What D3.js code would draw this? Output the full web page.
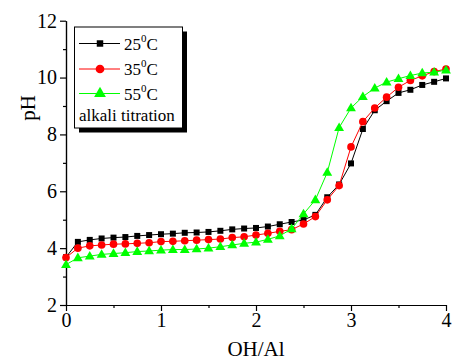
<!DOCTYPE html>
<html>
<head>
<meta charset="utf-8">
<script src="https://cdn.jsdelivr.net/npm/d3@7"></script>
<style>
  body { margin: 0; background: #fff; }
  svg { display: block; font-family: "Liberation Serif", "Times New Roman", serif; }
</style>
</head>
<body>
<svg></svg>
<script>
// OH/Al ratio
let ratios = [0, 0.125, 0.25, 0.375, 0.5, 0.625, 0.75, 0.875, 1, 1.125, 1.25, 1.375, 1.5, 1.625, 1.75, 1.875,
              2, 2.125, 2.25, 2.375, 2.5, 2.625, 2.75, 2.875, 3, 3.125, 3.25, 3.375, 3.5, 3.625, 3.75, 3.875, 4]

let ph25 = [3.68, 4.22, 4.29, 4.34, 4.37, 4.39, 4.43, 4.46, 4.49, 4.51, 4.54, 4.55, 4.57, 4.61, 4.66, 4.69,
            4.71, 4.76, 4.84, 4.92, 4.99, 5.17, 5.79, 6.24, 6.98, 8.19, 8.85, 9.17, 9.46, 9.57, 9.74, 9.85, 9.97]
let ph35 = [3.67, 4.0, 4.08, 4.11, 4.14, 4.15, 4.17, 4.19, 4.23, 4.24, 4.26, 4.28, 4.30, 4.32, 4.37, 4.40,
            4.46, 4.52, 4.59, 4.65, 4.85, 5.11, 5.70, 6.20, 7.56, 8.45, 8.93, 9.31, 9.66, 9.90, 10.06, 10.21, 10.30]
let ph55 = [3.42, 3.66, 3.72, 3.78, 3.81, 3.84, 3.88, 3.90, 3.93, 3.95, 3.95, 3.97, 4.0, 4.05, 4.11, 4.17,
            4.21, 4.31, 4.43, 4.68, 5.20, 5.70, 6.66, 8.24, 8.93, 9.33, 9.63, 9.84, 9.96, 10.07, 10.16, 10.19, 10.26]

let seriesNames = ['25', '35', '55']
let seriesColors = ['#000000', '#ff0000', '#00ff00']
let seriesShapes = ['square', 'circle', 'triangle']
let legendNote = 'alkali titration'

let xTicks = [0, 1, 2, 3, 4]
let xMinorTicks = [0.5, 1.5, 2.5, 3.5]
let yTicks = [2, 4, 6, 8, 10, 12]
let yMinorTicks = [3, 5, 7, 9, 11]

let width = 452
let height = 362
let plotLeft = 66, plotRight = 446, plotTop = 20.7, plotBottom = 305

let svg = d3.select('svg').attr('width', width).attr('height', height)

let xScale = d3.scaleLinear().domain([0, 4]).range([plotLeft, plotRight])
let yScale = d3.scaleLinear().domain([2, 12]).range([plotBottom, plotTop])

const symbolFor = (shape, size) => {
    let type = shape === 'square' ? d3.symbolSquare : shape === 'circle' ? d3.symbolCircle : d3.symbolTriangle
    return d3.symbol().type(type).size(size)()
}

// axes
let xAxis = d3.axisBottom(xScale).tickValues(xTicks).tickSize(6).tickSizeOuter(0).tickPadding(2).tickFormat(d3.format('d'))
let xMinor = d3.axisBottom(xScale).tickValues(xMinorTicks).tickSize(3).tickSizeOuter(0).tickFormat('')
let yAxis = d3.axisLeft(yScale).tickValues(yTicks).tickSize(6).tickSizeOuter(0).tickPadding(3).tickFormat(d3.format('d'))
let yMinor = d3.axisLeft(yScale).tickValues(yMinorTicks).tickSize(3).tickSizeOuter(0).tickFormat('')

const styleAxis = (g) => {
    g.attr('font-family', null)
    g.select('.domain').attr('stroke', '#000').attr('stroke-width', 1.2)
    g.selectAll('.tick line').attr('stroke', '#000').attr('stroke-width', 1.2)
    g.selectAll('text').attr('fill', '#000').style('font-size', '20px')
        .style('font-family', '"Liberation Serif", serif')
}

svg.append('g').attr('transform', `translate(0,${plotBottom})`).call(xAxis).call(styleAxis)
svg.append('g').attr('transform', `translate(0,${plotBottom})`).call(xMinor).call(styleAxis)
svg.append('g').attr('transform', `translate(${plotLeft},0)`).call(yAxis).call(styleAxis)
svg.append('g').attr('transform', `translate(${plotLeft},0)`).call(yMinor).call(styleAxis)

// axis titles
svg.append('text')
    .attr('x', (plotLeft + plotRight) / 2).attr('y', 356)
    .attr('text-anchor', 'middle').style('font-size', '21px').text('OH/Al')
svg.append('text')
    .attr('transform', `translate(35,108) rotate(-90)`)
    .attr('text-anchor', 'middle').style('font-size', '21px').text('pH')

// series
let allSeries = [ph25, ph35, ph55]
let line = d3.line().x((d, i) => xScale(ratios[i])).y(d => yScale(d))

allSeries.forEach((vals, s) => {
    svg.append('path')
        .datum(vals)
        .attr('d', line)
        .attr('fill', 'none')
        .attr('stroke', seriesColors[s])
        .attr('stroke-width', 1)
    let size = seriesShapes[s] === 'square' ? 36 : seriesShapes[s] === 'circle' ? 46 : 42
    svg.append('g').selectAll('path')
        .data(vals)
        .enter()
        .append('path')
        .attr('d', symbolFor(seriesShapes[s], size))
        .attr('transform', (d, i) => `translate(${xScale(ratios[i])},${yScale(d) + (seriesShapes[s] === 'triangle' ? 0.5 : 0)})`)
        .attr('fill', seriesColors[s])
})

// legend
let legend = svg.append('g')
legend.append('rect').attr('x', 79).attr('y', 31.5).attr('width', 108).attr('height', 101).attr('fill', '#000')
legend.append('rect').attr('x', 74.5).attr('y', 27).attr('width', 108).attr('height', 101)
    .attr('fill', '#fff').attr('stroke', '#000').attr('stroke-width', 1)

let rowY = [43.5, 69, 93.5]
seriesNames.forEach((name, s) => {
    let y = rowY[s]
    legend.append('line').attr('x1', 79).attr('x2', 120).attr('y1', y).attr('y2', y)
        .attr('stroke', seriesColors[s]).attr('stroke-width', 1)
    let size = seriesShapes[s] === 'square' ? 42 : 60
    legend.append('path').attr('d', symbolFor(seriesShapes[s], size))
        .attr('transform', `translate(100,${y})`).attr('fill', seriesColors[s])
    let t = legend.append('text').attr('x', 124).attr('y', y + 6).style('font-size', '17px')
    t.append('tspan').text(name)
    t.append('tspan').attr('dy', -8).style('font-size', '11px').text('0')
    t.append('tspan').attr('dy', 8).text('C')
})
legend.append('text').attr('x', 79).attr('y', 121).style('font-size', '17px').text(legendNote)
</script>
</body>
</html>
